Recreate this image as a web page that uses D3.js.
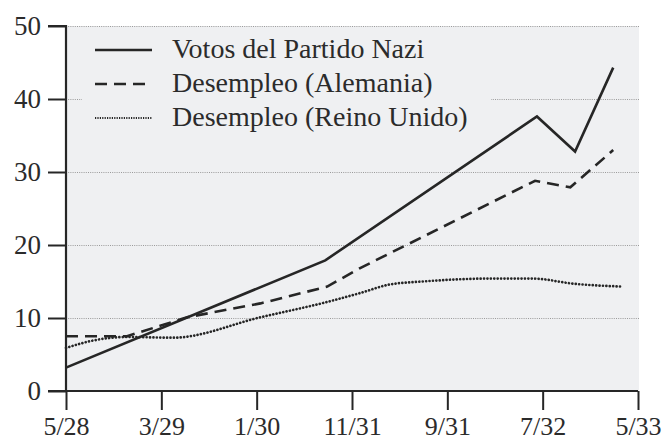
<!DOCTYPE html>
<html>
<head>
<meta charset="utf-8">
<script src="https://cdn.jsdelivr.net/npm/d3@7"></script>
<style>
  body { margin: 0; background: #fff; }
  text { font-family: "Liberation Serif", "DejaVu Serif", serif; fill: #2b2b2b; }
</style>
</head>
<body>
<script>
// months counted from 5/28
var tickMonths = [0, 10, 20, 30, 40, 50, 60];
var tickLabels = ["5/28", "3/29", "1/30", "11/31", "9/31", "7/32", "5/33"];
var yTicks = [0, 10, 20, 30, 40, 50];

var naziMonths = [0, 27.2, 49.4, 53.4, 57.4];
var naziVotes  = [3.2, 17.9, 37.6, 32.8, 44.3];

var deMonths = [0, 6.4, 12.7, 20.4, 27.4, 30.8, 49.2, 52.9, 57.4];
var deUnemp  = [7.5, 7.5, 10.1, 12.0, 14.3, 16.8, 28.8, 27.9, 33.0];

var ukMonths = [0, 2.8, 6.4, 11.2, 20.4, 27.4, 30.8, 34.0, 37.4, 44.5, 49.0, 53.2, 58.4];
var ukUnemp  = [5.9, 6.9, 7.4, 7.3, 10.1, 12.2, 13.4, 14.6, 15.0, 15.4, 15.4, 14.7, 14.3];

var legendNames = ["Votos del Partido Nazi", "Desempleo (Alemania)", "Desempleo (Reino Unido)"];

var width = 667, height = 442;
var panel = "#eff0f2", ink = "#262626";

var svg = d3.select("body").append("svg")
    .attr("width", width)
    .attr("height", height);

var x = d3.scaleLinear().domain([0, 60]).range([66, 638]);
var y = d3.scaleLinear().domain([0, 50]).range([391, 26]);

// background panel
svg.append("rect")
    .attr("x", x(0)).attr("y", y(50))
    .attr("width", x(60) - x(0) + 1).attr("height", y(0) - y(50))
    .attr("fill", panel);

// dotted grid
svg.selectAll(".grid")
    .data(yTicks.filter(function(d) { return d > 0; }))
    .enter().append("line")
    .attr("x1", x(0)).attr("x2", x(60) + 1)
    .attr("y1", function(d) { return y(d) + 0.5; })
    .attr("y2", function(d) { return y(d) + 0.5; })
    .attr("stroke", "#9a9a9a")
    .attr("stroke-width", 1)
    .attr("stroke-dasharray", "1,1.2");

// axes
var yAxis = svg.append("g")
    .attr("transform", "translate(" + x(0) + ",0)")
    .call(d3.axisLeft(y).tickValues(yTicks).tickSize(18).tickPadding(7));
var xAxis = svg.append("g")
    .attr("transform", "translate(0," + y(0) + ")")
    .call(d3.axisBottom(x).tickValues(tickMonths).tickSize(19).tickPadding(6)
      .tickFormat(function(d, i) { return tickLabels[i]; }));

[yAxis, xAxis].forEach(function(g) {
  g.attr("font-family", null);
  g.select(".domain").attr("stroke", ink).attr("stroke-width", 2.2);
  g.selectAll(".tick line").attr("stroke", ink).attr("stroke-width", 2);
  g.selectAll(".tick text")
    .style("font-family", '"Liberation Serif", serif')
    .style("font-size", "27px")
    .attr("fill", "#2b2b2b");
});
yAxis.select(".domain").attr("d", "M0," + y(0) + "V" + y(50) + "H-18");
xAxis.select(".domain").attr("d", "M" + (x(0) - 18) + ",0H" + x(60));
yAxis.selectAll(".tick text").attr("x", -25).attr("dy", "0.33em");
xAxis.selectAll(".tick text").attr("y", 44).attr("dy", 0).style("font-size", "26px");

// series lines
var line = d3.line()
    .x(function(d) { return x(d[0]); })
    .y(function(d) { return y(d[1]); });

var series = [
  { pts: d3.zip(naziMonths, naziVotes), dash: null, w: 2.6, cap: "butt", curve: d3.curveLinear },
  { pts: d3.zip(deMonths, deUnemp), dash: "12,7", w: 2.6, cap: "butt", curve: d3.curveLinear },
  { pts: d3.zip(ukMonths, ukUnemp), dash: "0.01,3.4", w: 2.7, cap: "round", curve: d3.curveMonotoneX }
];

series.forEach(function(s) {
  svg.append("path")
    .attr("d", line.curve(s.curve)(s.pts))
    .attr("fill", "none")
    .attr("stroke", ink)
    .attr("stroke-width", s.w)
    .attr("stroke-linecap", s.cap)
    .attr("stroke-linejoin", "miter")
    .attr("stroke-dasharray", s.dash);
});

// legend
var legend = svg.append("g");
legend.append("rect")
    .attr("x", 82).attr("y", 32)
    .attr("width", 409).attr("height", 98)
    .attr("fill", panel);

var legendDash = [null, "12,7", "1.2,1.2"];
var legendW = [2.6, 2.6, 1.8];
legendNames.forEach(function(name, i) {
  var ly = 50 + i * 34;
  legend.append("line")
    .attr("x1", 95).attr("x2", 152)
    .attr("y1", ly).attr("y2", ly)
    .attr("stroke", ink)
    .attr("stroke-width", legendW[i])
    .attr("stroke-dasharray", legendDash[i]);
  legend.append("text")
    .attr("x", 172).attr("y", ly + 8)
    .style("font-size", "28px")
    .text(name);
});
</script>
</body>
</html>
